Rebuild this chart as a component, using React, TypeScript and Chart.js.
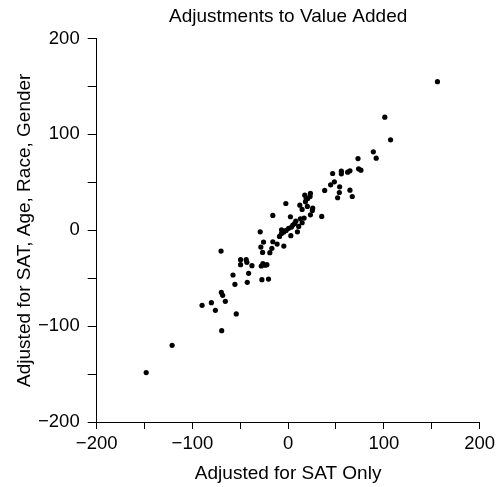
import React, { useEffect, useRef } from "react";
import { Chart, registerables } from "chart.js";

Chart.register(...registerables);

const chartTitle = "Adjustments to Value Added";
const xAxisTitle = "Adjusted for SAT Only";
const yAxisTitle = "Adjusted for SAT, Age, Race, Gender";
const axisMin = -200;
const axisMax = 200;
const tickStep = 50;
const labelStep = 100;

const satOnly = [
  156, 101, 107, 89, 92, 73, 46.5, 55.6, 55.6, 62.2, 64.6, 73.6, 76, 48.3, 44.4, 53.8, 53.5, 51.7,
  64.6, 67, 38.2, 23.3, 17.4, 22.9, 18.8, 18.1, 12.2, 20.1, 14.6, 25.7, 25.3, 23.3, 16.7, 12.8,
  14.6, 6.9, 4.9, 3.5, 9.7, 2.8, -2.4, 2.4, 35.1, -16, -6.9, -2.1, -4.5, -9, -4.5, -11.5, -16, -17,
  -19.1, -29.2, -25.7, -28.5, -26.7, -28.1, -26.4, -22.2, -27.4, -20.5, -70.1, -49.7, -49.7, -43.8,
  -43.1, -37.8, -41.3, -42.7, -57.6, -55.6, -69.8, -68.4, -65.6, -80.2, -89.9, -76, -54.2, -69.4,
  -121.2, -148.3, 20.5, 0.5, 8, -24, -7, 11,
];

const allFactors = [
  155, 117.9, 94.3, 81.8, 75.2, 74.8, 59.2, 61.6, 58.9, 60.6, 62, 64.1, 62.7, 50.5, 47.4, 45.3, 39.4,
  33.9, 41.8, 35.2, 41.5, 38.4, 36.6, 35.2, 32.8, 29.7, 26.2, 24.8, 21.7, 23.1, 20.7, 16.1, 12.7, 12,
  7.8, 7.1, 5.4, 3.3, -1.6, -5.7, 27.9, 14.1, 14.4, 15.5, 0.5, -0.2, -1.9, -6.4, -16.5, -14.4, -12,
  -18.9, -23.4, -1.6, -12.3, -17.5, -23.1, -37.3, -34.9, -35.9, -51.6, -50.9, -21.7, -30.7, -35.9,
  -30.7, -33.5, -37, -44.9, -54.3, -46.7, -56.4, -64.8, -67.9, -74.1, -75.5, -78.3, -83.5, -87.3,
  -104.7, -120, -148.4, 33, 2, 9.5, -36.5, -3.5, 4,
];

const FONT = "'Liberation Sans', Arial, Helvetica, sans-serif";

export default function App() {
  const ref = useRef<HTMLCanvasElement | null>(null);

  useEffect(() => {
    if (!ref.current) return;
    const points = satOnly.map((x, i) => ({ x, y: allFactors[i] }));
    const fmt = (v: number | string) => {
      const n = Number(v);
      if (n % labelStep !== 0) return "";
      return n < 0 ? "\u2212" + Math.abs(n) : String(n);
    };
    const chart = new Chart(ref.current, {
      type: "scatter",
      data: {
        datasets: [
          {
            data: points,
            backgroundColor: "#000",
            borderWidth: 0,
            pointRadius: 2.6,
            pointHoverRadius: 2.6,
          },
        ],
      },
      options: {
        animation: false,
        responsive: false,
        devicePixelRatio: 1,
        layout: { padding: { left: 0, right: 18.3, top: 0, bottom: 0 } },
        plugins: {
          legend: { display: false },
          tooltip: { enabled: false },
          title: {
            display: true,
            text: chartTitle,
            fullSize: false,
            color: "#000",
            font: { family: FONT, size: 19, weight: "normal" },
            padding: { top: 5.6, bottom: 10.1 },
          },
        },
        scales: {
          x: {
            type: "linear",
            min: axisMin,
            max: axisMax,
            afterFit: (s: any) => {
              s.height = 65;
            },
            border: { display: true, color: "#000", width: 1 },
            grid: { drawOnChartArea: false, drawTicks: true, tickLength: 7, color: "#000" },
            ticks: {
              stepSize: tickStep,
              autoSkip: false,
              maxRotation: 0,
              color: "#000",
              padding: 4,
              font: { family: FONT, size: 18.5 },
              callback: fmt,
            },
            title: {
              display: true,
              text: xAxisTitle,
              color: "#000",
              font: { family: FONT, size: 19 },
              padding: { top: 0, bottom: 1.6 },
            },
          },
          y: {
            type: "linear",
            min: axisMin,
            max: axisMax,
            afterFit: (s: any) => {
              s.width = 96.7;
            },
            border: { display: true, color: "#000", width: 1 },
            grid: { drawOnChartArea: false, drawTicks: true, tickLength: 9, color: "#000" },
            ticks: {
              stepSize: tickStep,
              autoSkip: false,
              color: "#000",
              padding: 8,
              font: { family: FONT, size: 18.5 },
              callback: fmt,
            },
            title: {
              display: true,
              text: yAxisTitle,
              color: "#000",
              font: { family: FONT, size: 19 },
              padding: { top: 13.6, bottom: 0 },
            },
          },
        },
      },
    });
    return () => chart.destroy();
  }, []);

  return (
    <div style={{ position: "absolute", left: 0, top: 0, width: 499, height: 487, background: "#fff" }}>
      <canvas ref={ref} width={499} height={487} style={{ display: "block", width: 499, height: 487 }} />
    </div>
  );
}
